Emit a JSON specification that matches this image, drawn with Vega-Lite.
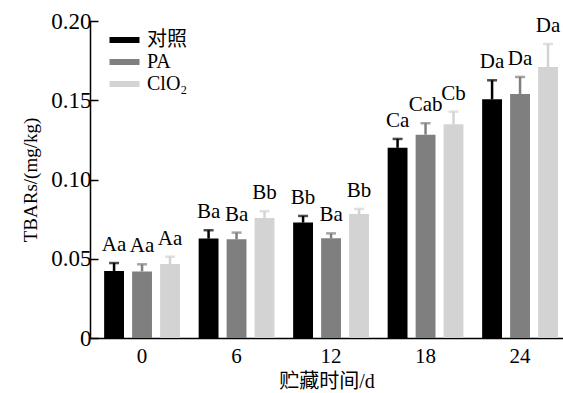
{
  "$schema": "https://vega.github.io/schema/vega-lite/v6.json",
  "width": 473,
  "height": 317,
  "autosize": {"type": "none"},
  "padding": {"left": 90, "top": 21, "right": 0, "bottom": 55},
  "config": {
    "view": {"stroke": null},
    "font": "Liberation Serif, Noto Sans CJK SC",
    "axis": {"grid": false, "domainColor": "#000000", "tickColor": "#000000", "labelColor": "#000000", "titleColor": "#000000", "titleFontWeight": "normal", "labelFont": "Liberation Serif, Noto Sans CJK SC", "titleFont": "Liberation Serif, Noto Sans CJK SC"}
  },
  "data": {
    "values": [
      {"day": "0", "group": "对照", "mean": 0.0423, "err": 0.005, "sig": "Aa"},
      {"day": "0", "group": "PA", "mean": 0.042, "err": 0.0045, "sig": "Aa"},
      {"day": "0", "group": "ClO₂", "mean": 0.0467, "err": 0.0046, "sig": "Aa"},
      {"day": "6", "group": "对照", "mean": 0.0627, "err": 0.0053, "sig": "Ba"},
      {"day": "6", "group": "PA", "mean": 0.0623, "err": 0.0042, "sig": "Ba"},
      {"day": "6", "group": "ClO₂", "mean": 0.0757, "err": 0.0043, "sig": "Bb"},
      {"day": "12", "group": "对照", "mean": 0.0728, "err": 0.0042, "sig": "Bb"},
      {"day": "12", "group": "PA", "mean": 0.0629, "err": 0.0031, "sig": "Ba"},
      {"day": "12", "group": "ClO₂", "mean": 0.0782, "err": 0.0032, "sig": "Bb"},
      {"day": "18", "group": "对照", "mean": 0.12, "err": 0.0056, "sig": "Ca"},
      {"day": "18", "group": "PA", "mean": 0.1283, "err": 0.0072, "sig": "Cab"},
      {"day": "18", "group": "ClO₂", "mean": 0.1348, "err": 0.008, "sig": "Cb"},
      {"day": "24", "group": "对照", "mean": 0.1506, "err": 0.012, "sig": "Da"},
      {"day": "24", "group": "PA", "mean": 0.154, "err": 0.0107, "sig": "Da"},
      {"day": "24", "group": "ClO₂", "mean": 0.171, "err": 0.0145, "sig": "Da"}
    ]
  },
  "transform": [{"calculate": "datum.mean + datum.err", "as": "hi"}],
  "encoding": {
    "x": {
      "field": "day", "type": "nominal", "sort": ["0", "6", "12", "18", "24"],
      "scale": {"paddingInner": 0.18, "paddingOuter": 0.0926, "align": 0.76},
      "axis": {"title": "贮藏时间/d", "titleFontSize": 20, "labelFontSize": 21, "labelAngle": 0, "ticks": false, "labelPadding": 7, "domainWidth": 1.5, "titlePadding": 5}
    },
    "xOffset": {"field": "group", "type": "nominal", "sort": ["对照", "PA", "ClO₂"], "scale": {"paddingInner": 0.29, "paddingOuter": 0.03}}
  },
  "layer": [
    {
      "mark": {"type": "bar"},
      "encoding": {
        "y": {"field": "mean", "type": "quantitative", "scale": {"domain": [0, 0.2], "nice": false},
          "axis": {"title": "TBARs/(mg/kg)", "titleFontSize": 19, "labelFontSize": 23, "labelLimit": 300, "values": [0, 0.05, 0.1, 0.15, 0.2], "labelExpr": "datum.value === 0 ? '0' : format(datum.value, '.2f')", "tickSize": -8, "labelPadding": 7, "domainWidth": 1.5, "tickWidth": 1.5, "titlePadding": 10}},
        "color": {"field": "group", "type": "nominal", "sort": ["对照", "PA", "ClO₂"],
          "scale": {"domain": ["对照", "PA", "ClO₂"], "range": ["#000000", "#7f7f7f", "#d3d3d3"]},
          "legend": {"orient": "none", "legendX": 24.5, "legendY": 9, "title": null, "symbolType": "M-2,-0.4H2V0.4H-2Z", "symbolSize": 225, "symbolStrokeWidth": 0, "labelFontSize": 20, "labelOffset": 12.5, "rowPadding": 2, "padding": 0, "labelColor": "#000000", "labelFont": "Liberation Serif, DejaVu Serif, Noto Sans CJK SC"}}
      }
    },
    {
      "mark": {"type": "rule", "strokeWidth": 2.5},
      "encoding": {
        "y": {"field": "mean", "type": "quantitative", "axis": {"labelFontSize": 23}},
        "y2": {"field": "hi"},
        "color": {"field": "group", "type": "nominal", "legend": null}
      }
    },
    {
      "mark": {"type": "tick", "thickness": 2.5, "size": 10},
      "encoding": {
        "y": {"field": "hi", "type": "quantitative", "axis": {"labelFontSize": 23}},
        "color": {"field": "group", "type": "nominal", "legend": null}
      }
    },
    {
      "mark": {"type": "text", "dy": -12, "baseline": "alphabetic", "fontSize": 21, "color": "#000000"},
      "encoding": {
        "y": {"field": "hi", "type": "quantitative", "axis": {"labelFontSize": 23}},
        "text": {"field": "sig"}
      }
    }
  ]
}
